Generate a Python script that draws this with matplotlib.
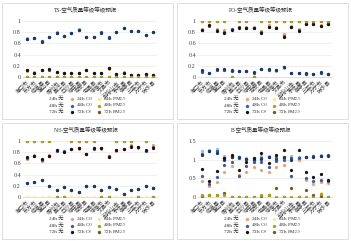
import numpy as np
import matplotlib
matplotlib.use("Agg")
import matplotlib.pyplot as plt
from matplotlib.lines import Line2D
from matplotlib.patches import Rectangle

plt.rcParams['font.family'] = ['Liberation Serif', 'Noto Sans CJK SC', 'DejaVu Sans']
plt.rcParams['mathtext.fontset'] = 'stix'

# categories
cities = ["海口市", "东方市", "临高县", "澄迈县", "儋州市", "昌江县", "白沙县", "琼中县", "定安县",
          "屯昌县", "琼海市", "文昌市", "五指山市", "乐东县", "保亭县", "三亚市", "万宁市", "陵水县"]

# TS
ts_none_24 = [0.69, 0.70, 0.65, 0.72, 0.80, 0.74, 0.79, 0.85, 0.72, 0.71, 0.79, 0.72, 0.81, 0.88, 0.82, 0.82, 0.75, 0.80]
ts_none_48 = [0.68, 0.70, 0.64, 0.71, 0.79, 0.74, 0.79, 0.84, 0.71, 0.71, 0.80, 0.71, 0.81, 0.87, 0.82, 0.82, 0.75, 0.80]
ts_none_72 = [0.68, 0.70, 0.63, 0.71, 0.79, 0.74, 0.79, 0.84, 0.71, 0.71, 0.79, 0.70, 0.81, 0.87, 0.82, 0.82, 0.75, 0.80]
ts_o3_24 = [0.11, 0.09, 0.12, 0.12, 0.09, 0.08, 0.07, 0.07, 0.12, 0.07, 0.08, 0.15, 0.06, 0.09, 0.03, 0.03, 0.05, 0.04]
ts_o3_48 = [0.12, 0.08, 0.13, 0.13, 0.09, 0.08, 0.07, 0.07, 0.13, 0.07, 0.07, 0.16, 0.06, 0.08, 0.03, 0.03, 0.06, 0.04]
ts_o3_72 = [0.12, 0.08, 0.13, 0.14, 0.09, 0.08, 0.07, 0.07, 0.13, 0.07, 0.07, 0.16, 0.06, 0.08, 0.03, 0.03, 0.06, 0.03]
ts_pm_24 = [0, 0, 0, 0, 0, 0, 0, 0, 0, 0, 0, 0, 0, 0, 0, 0, 0, 0]
ts_pm_48 = [0, 0, 0, 0, 0, 0, 0, 0, 0, 0, 0, 0, 0, 0, 0, 0, 0, 0]
ts_pm_72 = [0, 0, 0, 0, 0, 0, 0, 0, 0, 0, 0, 0, 0, 0, 0, 0, 0, 0]

# PO
po_none_24 = [0.11, 0.07, 0.13, 0.13, 0.11, 0.10, 0.10, 0.08, 0.14, 0.13, 0.11, 0.16, 0.08, 0.07, 0.06, 0.06, 0.08, 0.06]
po_none_48 = [0.09, 0.08, 0.12, 0.13, 0.11, 0.10, 0.10, 0.08, 0.15, 0.13, 0.12, 0.17, 0.08, 0.07, 0.06, 0.06, 0.08, 0.06]
po_none_72 = [0.12, 0.08, 0.14, 0.14, 0.12, 0.11, 0.11, 0.09, 0.15, 0.14, 0.12, 0.17, 0.08, 0.07, 0.07, 0.06, 0.09, 0.06]
po_o3_24 = [0.85, 0.93, 0.86, 0.84, 0.86, 0.90, 0.89, 0.89, 0.83, 0.92, 0.89, 0.77, 0.91, 0.85, 0.96, 0.97, 0.92, 0.95]
po_o3_48 = [0.84, 0.91, 0.84, 0.81, 0.85, 0.89, 0.88, 0.88, 0.81, 0.90, 0.88, 0.74, 0.90, 0.84, 0.95, 0.95, 0.91, 0.95]
po_o3_72 = [0.84, 0.92, 0.83, 0.78, 0.84, 0.88, 0.88, 0.88, 0.78, 0.89, 0.88, 0.72, 0.90, 0.83, 0.94, 0.94, 0.91, 0.94]
po_pm_24 = [1, 1, 1, 1, 0, 1, 1, 0, 1, 1, 1, 1, 1, 1, 1, 1, 1, 1]
po_pm_48 = [1, 1, 1, 1, 0, 1, 1, 0, 1, 1, 1, 1, 1, 1, 1, 1, 1, 1]
po_pm_72 = [1, 1, 1, 1, 0, 1, 1, 0, 1, 1, 1, 1, 1, 1, 1, 1, 1, 1]

# NH
nh_none_24 = [0.25, 0.26, 0.30, 0.19, 0.12, 0.18, 0.13, 0.09, 0.19, 0.20, 0.12, 0.18, 0.14, 0.06, 0.13, 0.14, 0.19, 0.16]
nh_none_48 = [0.25, 0.26, 0.30, 0.19, 0.12, 0.18, 0.13, 0.09, 0.19, 0.20, 0.12, 0.18, 0.14, 0.06, 0.13, 0.14, 0.19, 0.16]
nh_none_72 = [0.25, 0.26, 0.30, 0.19, 0.12, 0.18, 0.13, 0.09, 0.19, 0.20, 0.12, 0.18, 0.14, 0.06, 0.13, 0.14, 0.19, 0.16]
nh_o3_24 = [0.67, 0.75, 0.64, 0.75, 0.84, 0.81, 0.85, 0.86, 0.76, 0.87, 0.85, 0.72, 0.83, 0.86, 0.92, 0.88, 0.82, 0.92]
nh_o3_48 = [0.69, 0.74, 0.66, 0.74, 0.83, 0.82, 0.85, 0.87, 0.76, 0.86, 0.87, 0.73, 0.84, 0.86, 0.91, 0.90, 0.83, 0.90]
nh_o3_72 = [0.71, 0.73, 0.67, 0.73, 0.84, 0.81, 0.85, 0.87, 0.76, 0.88, 0.88, 0.72, 0.84, 0.86, 0.90, 0.90, 0.84, 0.88]
nh_pm_24 = [0, 0, 0, 0, 0, 0, 0, 0, 0, 0, 0, 0, 0, 0, 0, 0, 0, 0]
nh_pm_48 = [1, 1, 1, 1, 0, 0, 1, 1, 1, 1, 0, 0, 1, 1, 1, 0, 1, 0]
nh_pm_72 = [1, 1, 1, 1, 0, 0, 1, 1, 1, 1, 0, 0, 1, 1, 1, 0, 1, 0]

# B
b_none_24 = [1.22, 1.25, 1.29, 1.10, 1.10, 1.08, 1.05, 1.05, 1.10, 1.10, 1.08, 1.07, 1.10, 1.08, 1.08, 1.10, 1.12, 1.12]
b_none_48 = [1.15, 1.23, 1.22, 1.05, 1.08, 1.05, 1.02, 1.02, 1.05, 1.08, 1.05, 1.05, 1.05, 1.05, 1.07, 1.09, 1.11, 1.12]
b_none_72 = [1.12, 1.24, 1.18, 1.00, 1.07, 1.06, 1.03, 1.00, 1.03, 1.07, 1.00, 1.06, 1.00, 1.04, 1.07, 1.08, 1.10, 1.11]
b_o3_24 = [0.42, 0.30, 0.41, 0.68, 0.83, 0.60, 0.67, 0.80, 0.73, 0.66, 0.81, 0.85, 0.55, 1.00, 0.46, 0.36, 0.40, 0.38]
b_o3_48 = [0.56, 0.35, 0.53, 0.86, 0.95, 0.57, 0.82, 0.95, 0.93, 0.80, 0.96, 1.00, 0.57, 1.05, 0.52, 0.43, 0.45, 0.42]
b_o3_72 = [0.76, 0.42, 0.69, 1.05, 1.12, 0.73, 0.94, 1.04, 1.19, 0.92, 1.12, 1.25, 0.71, 1.27, 0.67, 0.53, 0.62, 0.45]
b_pm_24 = [0.02, 0.03, 0.03, 0.05, 0, 0, 0, 0, 0.04, 0, 0, 0, 0, 0, 0, 0, 0.10, 0]
b_pm_48 = [0.05, 0.05, 0.05, 0.05, 0, 0, 0, 0, 0.05, 0.06, 0, 0, 0, 0, 0, 0, 0.07, 0]
b_pm_72 = [0.03, 0.05, 0.05, 0.12, 0, 0, 0, 0, 0.03, 0.05, 0.25, 0, 0.25, 0, 0.20, 0.05, 0.03, 0]

labels = ["24h 无", "48h 无", "72h 无",
          "24h O$_3$", "48h O$_3$", "72h O$_3$",
          "24h PM$_{2.5}$", "48h PM$_{2.5}$", "72h PM$_{2.5}$"]
colors = ["#9DB9E3", "#2F5597", "#1F3864",
          "#F0A07A", "#3A5DA8", "#1E1208",
          "#FFE699", "#A3A21A", "#6B5A1E"]
zorders = [3, 4, 5, 6, 7, 8, 9, 11, 10]

panels = [
    ("TS-空气质量等级等级预报", [ts_none_24, ts_none_48, ts_none_72, ts_o3_24, ts_o3_48, ts_o3_72, ts_pm_24, ts_pm_48, ts_pm_72], 1.0, [0, 0.2, 0.4, 0.6, 0.8, 1]),
    ("PO-空气质量等级等级预报", [po_none_24, po_none_48, po_none_72, po_o3_24, po_o3_48, po_o3_72, po_pm_24, po_pm_48, po_pm_72], 1.0, [0, 0.2, 0.4, 0.6, 0.8, 1]),
    ("NH-空气质量等级等级预报", [nh_none_24, nh_none_48, nh_none_72, nh_o3_24, nh_o3_48, nh_o3_72, nh_pm_24, nh_pm_48, nh_pm_72], 1.0, [0, 0.2, 0.4, 0.6, 0.8, 1]),
    ("B-空气质量等级等级预报", [b_none_24, b_none_48, b_none_72, b_o3_24, b_o3_48, b_o3_72, b_pm_24, b_pm_48, b_pm_72], 1.5, [0, 0.5, 1, 1.5]),
]
offsets = [(0, 0), (175, 0), (0, 120), (175, 120)]

W, H = 351, 241
fig = plt.figure(figsize=(W / 100, H / 100), dpi=100)
fig.patch.set_facecolor("white")


def fx(px):
    return px / W


def fy(py):
    return 1 - py / H


x = np.arange(len(cities))
for (title, series, ymax, yticks), (ox, oy) in zip(panels, offsets):
    # panel border
    fig.patches.append(Rectangle((fx(ox + 2), fy(oy + 119)), 171 / W, 116 / H,
                                 transform=fig.transFigure, fill=False, edgecolor="#D9D9D9", linewidth=0.6))
    ax = fig.add_axes([fx(ox + 23), fy(oy + 77), 134 / W, 56 / H])
    for vals, c, z in zip(series, colors, zorders):
        ax.scatter(x, vals, s=5.5, color=c, zorder=z, linewidths=0)
    ax.set_xlim(-0.5, len(cities) - 0.5)
    ax.set_ylim(0, ymax)
    ax.set_yticks(yticks)
    ax.set_yticklabels([f"{t:g}" for t in yticks], fontsize=4.4, color="#404040")
    ax.set_xticks(x)
    ax.set_xticklabels(cities, rotation=45, ha="right", rotation_mode="anchor", fontsize=4, color="#404040")
    ax.tick_params(length=0, pad=1.5)
    ax.grid(axis="y", color="#E3E3E3", linewidth=0.4)
    ax.set_axisbelow(True)
    for s in ["top", "right", "left"]:
        ax.spines[s].set_visible(False)
    ax.spines["bottom"].set_color("#D0D0D0")
    ax.spines["bottom"].set_linewidth(0.5)
    fig.text(fx(ox + 86), fy(oy + 10), title, ha="center", va="center", fontsize=4, color="#303030")

    # legend: 3 rows (24h / 48h / 72h) x 3 columns (无 / O3 / PM2.5)
    row_y = [oy + 99, oy + 105.5, oy + 112]
    col_marker = [None, ox + 72, ox + 99]
    col_text = [ox + 49, ox + 76, ox + 103]
    for i, (lab, c) in enumerate(zip(labels, colors)):
        col, row = divmod(i, 3)
        yy = fy(row_y[row])
        if col_marker[col] is not None:
            fig.add_artist(Line2D([fx(col_marker[col])], [yy], transform=fig.transFigure,
                                  linestyle="none", marker="o", markersize=2.4,
                                  markerfacecolor=c, markeredgewidth=0))
        fig.text(fx(col_text[col]), yy, lab, ha="left", va="center", fontsize=3.8, color="#303030")

fig.savefig("out.png", dpi=100)
